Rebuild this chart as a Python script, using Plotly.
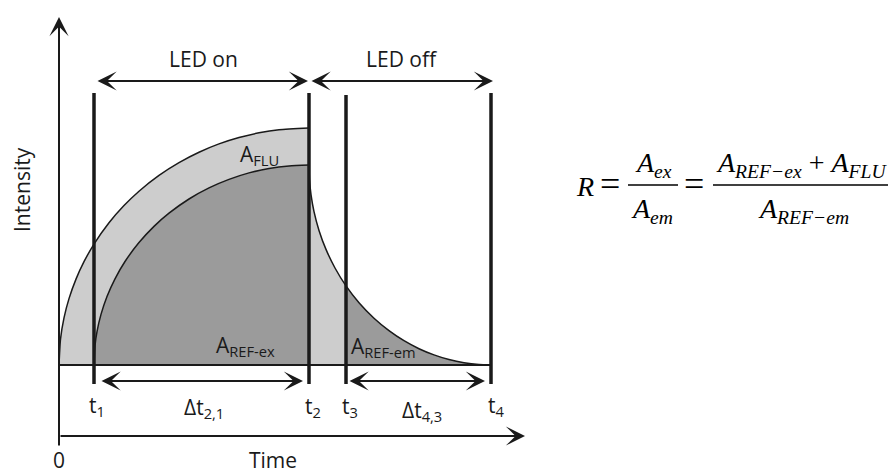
import plotly.graph_objects as go

# ---- data (schematic units: time along x, intensity along y) ----
t_marks = [3.5, 25.0, 28.7, 43.2]
t_labels = ["t<sub>1</sub>", "t<sub>2</sub>", "t<sub>3</sub>", "t<sub>4</sub>"]

# total excitation signal (reference + fluorescence), LED on
outer_x = [0, 0.15, 0.5, 1.0, 1.7, 2.5, 3.5, 5, 6.5, 8, 10, 12, 14, 16, 18, 20, 22, 25]
outer_y = [0, 2.59, 4.72, 6.64, 8.59, 10.33, 12.09, 14.22, 15.94, 17.38, 18.96, 20.24,
           21.28, 22.11, 22.75, 23.22, 23.53, 23.7]

# reference excitation signal, LED on
inner_x = [3.5, 3.6, 3.8, 4.2, 4.8, 5.6, 6.6, 8, 9.5, 11, 13, 15, 17, 19, 21, 23, 25]
inner_y = [0, 1.93, 3.33, 5.06, 6.85, 8.62, 10.35, 12.24, 13.86, 15.18, 16.6, 17.71,
           18.56, 19.21, 19.65, 19.91, 20.0]

# reference emission decay, LED off
decay_x = [25, 25.05, 25.2, 25.5, 26, 26.7, 27.6, 28.7, 30, 31.5, 33, 34.5, 36, 37.5,
           39, 40.5, 42, 43.2]
decay_y = [20.0, 18.52, 17.04, 15.34, 13.46, 11.56, 9.70, 7.91, 6.23, 4.68, 3.44, 2.43,
           1.63, 1.01, 0.54, 0.22, 0.04, 0]

LIGHT = "#cdcdcd"
DARK = "#9b9b9b"
INK = "#1a1a1a"

t1, t2, t3, t4 = t_marks
k3 = decay_x.index(t3)

fig = go.Figure()

# light grey area (fluorescence + early decay)
fig.add_trace(go.Scatter(
    x=outer_x + decay_x[:k3 + 1] + [t3, 0],
    y=outer_y + decay_y[:k3 + 1] + [0, 0],
    fill="toself", fillcolor=LIGHT, mode="lines", line=dict(width=0),
    hoverinfo="skip"))
# dark grey: reference excitation
fig.add_trace(go.Scatter(
    x=inner_x + [t2, t1], y=inner_y + [0, 0],
    fill="toself", fillcolor=DARK, mode="lines", line=dict(width=0),
    hoverinfo="skip"))
# dark grey: reference emission
fig.add_trace(go.Scatter(
    x=decay_x[k3:] + [t3], y=decay_y[k3:] + [0],
    fill="toself", fillcolor=DARK, mode="lines", line=dict(width=0),
    hoverinfo="skip"))

# curve outlines
for cx, cy in [(outer_x, outer_y), (inner_x, inner_y), (decay_x, decay_y)]:
    fig.add_trace(go.Scatter(x=cx, y=cy, mode="lines",
                             line=dict(color=INK, width=1.5, shape="spline", smoothing=0.6),
                             hoverinfo="skip"))
# baseline
fig.add_trace(go.Scatter(x=[0, t4], y=[0, 0], mode="lines",
                         line=dict(color=INK, width=2), hoverinfo="skip"))

# vertical time markers
tops = [27.2, 27.2, 27.0, 27.2]
vx, vy = [], []
for t, top in zip(t_marks, tops):
    vx += [t, t, None]
    vy += [-1.9, top, None]
fig.add_trace(go.Scatter(x=vx, y=vy, mode="lines",
                         line=dict(color=INK, width=3.5), hoverinfo="skip"))

ann = []


def arrow(x0, y0, x1, y1, both=False):
    d = dict(x=x1, y=y1, ax=x0, ay=y0, xref="x", yref="y", axref="x", ayref="y",
             text="", showarrow=True, arrowhead=3, arrowsize=1.6, arrowwidth=2,
             arrowcolor=INK, standoff=0)
    if both:
        d.update(arrowside="end+start", startarrowhead=3, startarrowsize=1.6,
                 startstandoff=0)
    ann.append(d)


# axes
arrow(0, -8.2, 0, 34.8)
arrow(0, -7.1, 46.6, -7.1)
# interval arrows
arrow(3.7, 28.4, 24.9, 28.4, both=True)
arrow(25.1, 28.4, 43.4, 28.4, both=True)
arrow(4.1, -1.6, 24.4, -1.6, both=True)
arrow(28.9, -1.6, 42.6, -1.6, both=True)


def label(x, y, text, size=21, angle=0, yanchor="middle"):
    ann.append(dict(x=x, y=y, xref="x", yref="y", text=text, showarrow=False,
                    xanchor="center", yanchor=yanchor, textangle=angle, borderpad=0,
                    font=dict(family="Open Sans", size=size, color=INK)))


label(14.4, 30.6, "LED on")
label(34.3, 30.6, "LED off")
label(-3.7, 17.5, "Intensity", angle=-90)
label(0, -11.0, "0", yanchor="bottom")
label(21.4, -11.0, "Time", yanchor="bottom")
label(20.0, 21.0, "A<sub>FLU</sub>")
label(18.6, 1.9, "A<sub>REF-ex</sub>")
label(32.4, 1.8, "A<sub>REF-em</sub>")
label_pos = [(3.8, -4.1), (25.4, -4.2), (29.1, -4.2), (43.7, -4.1)]
for (lx, ly), txt in zip(label_pos, t_labels):
    label(lx, ly, txt)
label(14.5, -4.3, "Δt<sub>2,1</sub>")
label(36.3, -4.6, "Δt<sub>4,3</sub>")

# ---- ratio formula (paper coordinates, pixel based) ----
W, H = 896, 475


def ftext(px, py, text, size=28):
    ann.append(dict(x=px / W, y=1 - py / H, xref="paper", yref="paper", text=text,
                    showarrow=False, xanchor="center", yanchor="middle",
                    font=dict(family="Liberation Serif", size=size, color="black")))


ftext(585, 186, "<i>R</i>")
ftext(610, 184, "=", size=36)
ftext(653, 165, "<i>A</i><sub><i>ex</i></sub>")
ftext(652, 210, "<i>A</i><sub><i>em</i></sub>")
ftext(694, 184, "=", size=36)
ftext(801, 165, "<i>A</i><sub><i>REF−ex</i></sub> + <i>A</i><sub><i>FLU</i></sub>")
ftext(803, 210, "<i>A</i><sub><i>REF−em</i></sub>")

shapes = [
    dict(type="line", xref="paper", yref="paper", x0=628 / W, x1=678 / W,
         y0=1 - 185 / H, y1=1 - 185 / H, line=dict(color="black", width=1.5)),
    dict(type="line", xref="paper", yref="paper", x0=713 / W, x1=888 / W,
         y0=1 - 185 / H, y1=1 - 185 / H, line=dict(color="black", width=1.5)),
]

fig.update_layout(
    width=W, height=H, autosize=False,
    margin=dict(l=0, r=0, t=0, b=0),
    paper_bgcolor="white", plot_bgcolor="white",
    showlegend=False,
    xaxis=dict(range=[-5.9, 83.7], visible=False, fixedrange=True),
    yaxis=dict(range=[-11.0, 36.5], visible=False, fixedrange=True),
    annotations=ann, shapes=shapes,
)

fig.write_html("out.html", config={"displayModeBar": False},
               post_script="document.body.style.margin='0px';"
                           "document.body.style.overflow='hidden';")
